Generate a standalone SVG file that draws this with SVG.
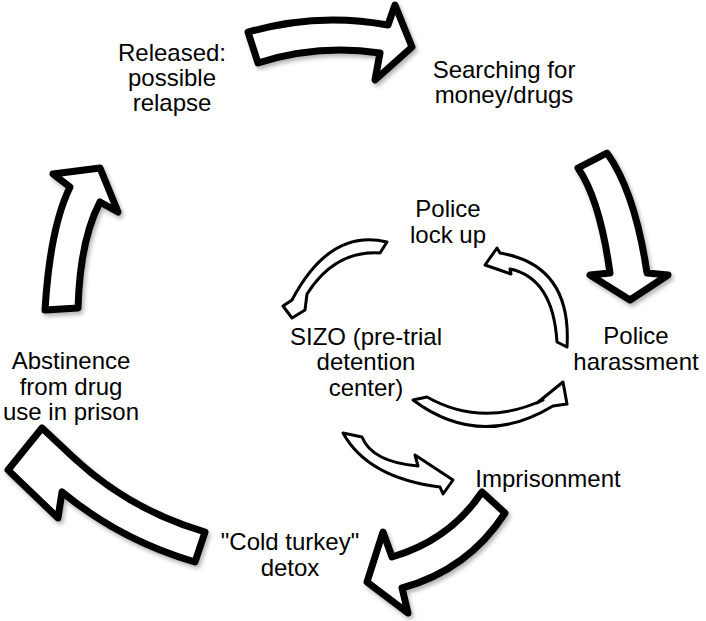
<svg xmlns="http://www.w3.org/2000/svg" width="706" height="621" viewBox="0 0 706 621">
<defs>
<style>
.big{fill:#fff;stroke:#000;stroke-width:7;stroke-linejoin:round;filter:url(#sh)}
.small{fill:#fff;stroke:#000;stroke-width:3;stroke-linejoin:round}
text{font-family:"Liberation Sans",Arial,sans-serif;font-size:24px;fill:#000;text-anchor:middle}
</style>
<filter id="sh" x="-20%" y="-20%" width="140%" height="140%">
<feDropShadow dx="2" dy="3" stdDeviation="2" flood-color="#000" flood-opacity="0.3"/>
</filter>
</defs>
<rect width="706" height="621" fill="#fff"/>
<g id="connectors">
<path id="a-top" class="big" d="M248,32 Q318,12 388,25 L395,5 L412,47 L375,80 L380,53 Q318,44 258,63 Z"/>
<path id="a-right" class="big" d="M578,168 L607,153 Q635,192 647,273 L668,275 L630,300 L590,275 L610,273 Q600,200 578,168 Z"/>
<path id="a-botright" class="big" d="M482,492 L505,513 Q468,570 402,588 L408,613 L367,582 L383,532 L392,557 Q450,540 482,492 Z"/>
<path id="a-botleft" class="big" d="M205,532 L195,562 Q120,540 62,492 L58,518 L8,470 L42,428 L74,458 Q130,510 205,532 Z"/>
<path id="a-left" class="big" d="M45,310 L78,308 Q80,240 100,202 L118,212 L100,168 L53,174 L70,187 Q50,228 45,310 Z"/>
<path id="i-lock-sizo" class="small" d="M387,242 Q330,228 292,300 L283,306 L292,318 L305,310 L307,294 Q335,250 380,253 Z"/>
<path id="i-har-lock" class="small" d="M567,347 Q572,265 500,253 L497,248 L485,265 L511,274 L510,269 Q553,278 557,342 Z"/>
<path id="i-sizo-har" class="small" d="M413,400 Q480,450 553,406 L567,404 L563,382 L537,403 L543,400 Q482,428 427,397 Z"/>
<path id="i-sizo-imp" class="small" d="M343,433 L362,437 Q372,462 418,466 L415,455 L453,480 L443,494 L440,487 Q368,478 343,433 Z"/>
</g>
<g id="n-released"><text x="172" y="61">Released:</text><text x="172" y="86">possible</text><text x="172" y="111">relapse</text></g>
<g id="n-searching"><text x="504" y="78">Searching for</text><text x="504" y="103">money/drugs</text></g>
<g id="n-lockup"><text x="448" y="217">Police</text><text x="448" y="243">lock up</text></g>
<g id="n-sizo"><text x="366" y="345">SIZO (pre-trial</text><text x="366" y="370">detention</text><text x="366" y="396">center)</text></g>
<g id="n-harassment"><text x="636" y="344">Police</text><text x="636" y="370">harassment</text></g>
<g id="n-abstinence"><text x="71" y="369">Abstinence</text><text x="71" y="395">from drug</text><text x="71" y="420">use in prison</text></g>
<g id="n-imprisonment"><text x="548" y="487">Imprisonment</text></g>
<g id="n-coldturkey"><text x="290" y="550">"Cold turkey"</text><text x="290" y="576">detox</text></g>
</svg>
